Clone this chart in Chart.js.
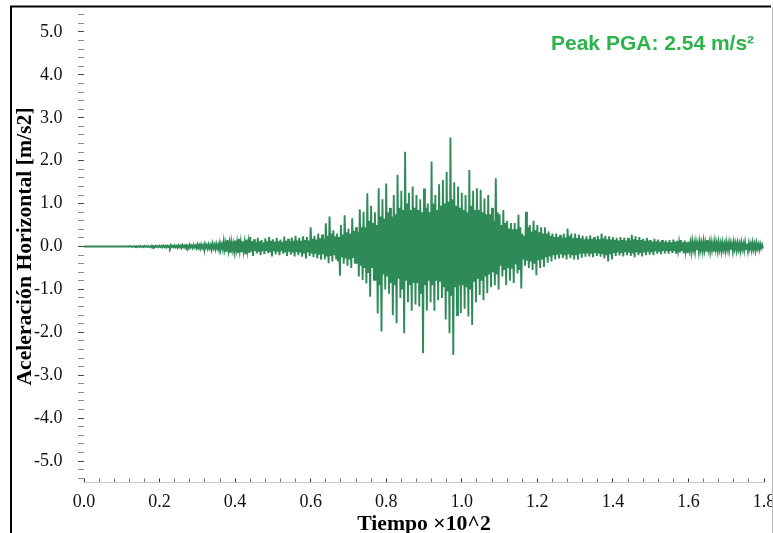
<!DOCTYPE html>
<html>
<head>
<meta charset="utf-8">
<script src="https://cdn.jsdelivr.net/npm/chart.js@4"></script>
<style>
  html, body { margin: 0; padding: 0; background: #ffffff; }
  #wrap { position: relative; width: 773px; height: 533px; }
  canvas { display: block; }
</style>
</head>
<body>
<div id="wrap"><canvas id="c" width="773" height="533"></canvas></div>
<script>
// Sampling step of the read-off record (seconds); the x axis is in seconds x10^2
const pasoSeg = 1;

// Positive spike peaks, one per second (m/s2)
const picosPos = [
  0,0,0,0,0,0,0,0,0,0,
  0,0.005,0.01,0.005,0.01,0.01,0.015,0.01,0.02,0.015,
  0.02,0.025,0.02,0.03,0.025,0.03,0.035,0.03,0.04,0.035,
  0.05,0.045,0.06,0.05,0.07,0.06,0.08,0.12,0.15,0.1,
  0.14,0.18,0.12,0.16,0.22,0.17,0.2,0.15,0.19,0.22,
  0.17,0.2,0.16,0.23,0.18,0.21,0.25,0.2,0.24,0.22,
  0.45,0.25,0.3,0.28,0.54,0.7,0.38,0.3,0.5,0.73,
  0.42,0.66,0.45,0.87,0.81,1.24,0.95,0.8,1.36,1.1,
  1.47,0.9,1.2,1.67,1.3,2.21,1.25,1.4,1.2,1.1,
  1.35,1.0,1.98,1.2,1.45,1.55,1.74,2.54,1.5,1.4,
  1.25,1.2,1.78,1.3,1.36,1.32,1.12,1.2,0.9,1.59,
  0.75,0.85,0.6,0.55,0.55,0.74,0.3,0.81,0.5,0.6,
  0.5,0.45,0.45,0.35,0.3,0.3,0.27,0.3,0.42,0.3,
  0.3,0.28,0.25,0.24,0.26,0.22,0.25,0.3,0.25,0.24,
  0.22,0.2,0.22,0.21,0.2,0.27,0.24,0.22,0.18,0.2,
  0.15,0.18,0.16,0.15,0.14,0.15,0.16,0.13,0.15,0.14,
  0.11,0.12,0.1,0.11,0.12,0.15,0.1,0.11,0.1,0.09,
  0.1,0.09,0.1,0.08,0.09,0.1,0.08,0.09,0.08,0.06
];

// Negative spike peaks, one per second (m/s2)
const picosNeg = [
  0,0,0,0,0,0,0,0,0,0,
  0,-0.005,-0.01,-0.005,-0.01,-0.015,-0.01,-0.015,-0.02,-0.015,
  -0.02,-0.025,-0.03,-0.02,-0.03,-0.035,-0.03,-0.04,-0.035,-0.04,
  -0.05,-0.06,-0.05,-0.07,-0.06,-0.08,-0.07,-0.12,-0.15,-0.11,
  -0.15,-0.13,-0.18,-0.15,-0.22,-0.16,-0.2,-0.18,-0.15,-0.23,
  -0.18,-0.2,-0.17,-0.22,-0.19,-0.23,-0.2,-0.24,-0.28,-0.22,
  -0.25,-0.28,-0.31,-0.3,-0.39,-0.35,-0.3,-0.68,-0.4,-0.45,
  -0.5,-0.4,-0.7,-0.78,-0.86,-1.17,-0.8,-1.56,-1.98,-1.0,
  -1.1,-1.6,-1.79,-1.2,-2.02,-1.3,-1.5,-1.35,-1.4,-2.49,
  -1.5,-1.3,-1.5,-1.25,-1.2,-1.7,-2.02,-2.53,-1.6,-1.55,
  -1.45,-1.63,-1.83,-1.3,-1.13,-1.25,-1.09,-0.95,-0.9,-1.0,
  -0.7,-0.9,-0.8,-0.85,-0.63,-0.98,-0.45,-0.5,-0.55,-0.67,
  -0.5,-0.48,-0.38,-0.35,-0.3,-0.28,-0.27,-0.3,-0.27,-0.3,
  -0.31,-0.26,-0.24,-0.23,-0.25,-0.22,-0.24,-0.28,-0.35,-0.3,
  -0.22,-0.21,-0.23,-0.2,-0.22,-0.25,-0.2,-0.23,-0.2,-0.19,
  -0.2,-0.17,-0.18,-0.16,-0.17,-0.15,-0.17,-0.14,-0.16,-0.15,
  -0.12,-0.11,-0.12,-0.1,-0.12,-0.11,-0.12,-0.1,-0.11,-0.1,
  -0.1,-0.11,-0.09,-0.1,-0.09,-0.1,-0.08,-0.09,-0.07,-0.05
];

// Positive swings inside the solid core of the trace, one per second (m/s2)
const nucleoPos = [
  0,0,0,0,0,0,0,0,0,0,
  0,0.003,0.005,0.004,0.006,0.006,0.008,0.007,0.01,0.009,
  0.012,0.014,0.012,0.016,0.015,0.018,0.02,0.018,0.022,0.02,
  0.03,0.028,0.035,0.03,0.04,0.038,0.05,0.07,0.08,0.07,
  0.09,0.1,0.08,0.1,0.12,0.1,0.12,0.1,0.12,0.13,
  0.11,0.12,0.11,0.13,0.12,0.13,0.14,0.13,0.15,0.14,
  0.18,0.16,0.19,0.18,0.25,0.3,0.24,0.22,0.28,0.33,
  0.3,0.36,0.33,0.45,0.45,0.6,0.55,0.5,0.7,0.65,
  0.8,0.7,0.75,0.9,0.85,1.0,0.85,0.9,0.85,0.8,
  0.9,0.8,1.0,0.85,0.95,1.0,1.05,1.1,0.95,0.9,
  0.85,0.8,0.95,0.85,0.85,0.8,0.75,0.75,0.6,0.8,
  0.5,0.55,0.42,0.4,0.4,0.45,0.25,0.45,0.35,0.38,
  0.33,0.3,0.3,0.25,0.22,0.22,0.2,0.21,0.25,0.2,
  0.2,0.19,0.17,0.17,0.18,0.16,0.17,0.19,0.17,0.16,
  0.15,0.14,0.15,0.14,0.14,0.17,0.15,0.15,0.13,0.14,
  0.11,0.12,0.11,0.1,0.1,0.1,0.11,0.09,0.1,0.1,
  0.08,0.08,0.07,0.08,0.08,0.09,0.07,0.08,0.07,0.06,
  0.07,0.06,0.07,0.06,0.06,0.07,0.06,0.06,0.05,0.04
];

// Negative swings inside the solid core of the trace, one per second (m/s2)
const nucleoNeg = [
  0,0,0,0,0,0,0,0,0,0,
  0,-0.003,-0.005,-0.004,-0.006,-0.008,-0.006,-0.008,-0.01,-0.009,
  -0.012,-0.014,-0.016,-0.012,-0.016,-0.018,-0.017,-0.022,-0.02,-0.022,
  -0.03,-0.035,-0.03,-0.04,-0.036,-0.045,-0.042,-0.07,-0.085,-0.07,
  -0.09,-0.085,-0.1,-0.09,-0.12,-0.1,-0.12,-0.11,-0.1,-0.13,
  -0.11,-0.12,-0.11,-0.13,-0.12,-0.14,-0.13,-0.14,-0.16,-0.14,
  -0.16,-0.17,-0.19,-0.18,-0.23,-0.22,-0.2,-0.35,-0.25,-0.28,
  -0.3,-0.27,-0.4,-0.45,-0.5,-0.62,-0.5,-0.8,-0.9,-0.65,
  -0.7,-0.85,-0.9,-0.75,-1.0,-0.8,-0.9,-0.85,-0.85,-1.1,
  -0.9,-0.8,-0.9,-0.8,-0.8,-0.95,-1.05,-1.15,-0.95,-0.9,
  -0.9,-0.95,-1.0,-0.8,-0.75,-0.8,-0.7,-0.65,-0.6,-0.65,
  -0.45,-0.55,-0.5,-0.52,-0.42,-0.55,-0.3,-0.33,-0.35,-0.4,
  -0.32,-0.3,-0.25,-0.23,-0.2,-0.19,-0.18,-0.2,-0.18,-0.2,
  -0.2,-0.17,-0.16,-0.16,-0.17,-0.15,-0.16,-0.18,-0.2,-0.18,
  -0.15,-0.14,-0.15,-0.13,-0.14,-0.16,-0.13,-0.15,-0.13,-0.12,
  -0.13,-0.11,-0.12,-0.1,-0.11,-0.1,-0.11,-0.09,-0.1,-0.1,
  -0.08,-0.07,-0.08,-0.07,-0.08,-0.07,-0.08,-0.07,-0.07,-0.07,
  -0.07,-0.07,-0.06,-0.07,-0.06,-0.06,-0.05,-0.06,-0.05,-0.04
];

// Axis settings and texts
const ejeX = { min: 0, max: 1.8, paso: 0.04, mayor: 0.2 };
const ejeY = { min: -5.5, max: 5.5, paso: 0.2, mayor: 1.0, primerTick: -5.4, ultimoTick: 5.4 };
const tituloX = 'Tiempo \u00d710^2';
const tituloY = 'Aceleraci\u00f3n Horizontal [m/s2]';
const textoPico = 'Peak PGA: 2.54 m/s\u00b2';

// Each second of record: spike up, core down, core up, spike down
const serie = [];
for (let i = 0; i < picosPos.length; i++) {
  const t = i * pasoSeg;
  serie.push({ x: t / 100, y: picosPos[i] });
  serie.push({ x: (t + pasoSeg * 0.25) / 100, y: nucleoNeg[i] });
  serie.push({ x: (t + pasoSeg * 0.5) / 100, y: nucleoPos[i] });
  serie.push({ x: (t + pasoSeg * 0.75) / 100, y: picosNeg[i] });
}

const valoresTicksY = [];
{
  const n = Math.round((ejeY.ultimoTick - ejeY.primerTick) / ejeY.paso);
  for (let k = 0; k <= n; k++) {
    valoresTicksY.push(Math.round((ejeY.primerTick + k * ejeY.paso) * 1000) / 1000);
  }
}

function esMayor(v, m) {
  const r = v / m;
  return Math.abs(r - Math.round(r)) < 1e-6;
}

const marco = {
  id: 'marco',
  beforeDraw(chart) {
    const ctx = chart.ctx;
    ctx.save();
    ctx.fillStyle = '#ffffff';
    ctx.fillRect(0, 0, chart.width, chart.height);
    ctx.restore();
  },
  afterDraw(chart) {
    const ctx = chart.ctx;
    ctx.save();
    ctx.strokeStyle = '#000000';
    ctx.lineWidth = 2;
    ctx.beginPath();
    ctx.moveTo(10, 6.5); ctx.lineTo(771, 6.5);
    ctx.moveTo(11, 6); ctx.lineTo(11, 533);
    ctx.stroke();
    ctx.strokeStyle = '#b8b8b8';
    ctx.lineWidth = 1;
    ctx.beginPath();
    ctx.moveTo(772.5, 7); ctx.lineTo(772.5, 533);
    ctx.stroke();
    ctx.fillStyle = '#2db34b';
    ctx.font = 'bold 21px "Liberation Sans", Arial, sans-serif';
    ctx.textAlign = 'left';
    ctx.textBaseline = 'alphabetic';
    ctx.fillText(textoPico, 551, 49.5);
    ctx.restore();
  }
};

const fuenteSerif = '"Liberation Serif", "Times New Roman", serif';

new Chart(document.getElementById('c'), {
  type: 'line',
  data: {
    datasets: [{
      data: serie,
      borderColor: '#2e8b57',
      borderWidth: 1.9,
      pointRadius: 0,
      tension: 0,
      fill: false
    }]
  },
  options: {
    responsive: false,
    devicePixelRatio: 1,
    animation: false,
    parsing: false,
    layout: { padding: { left: 0, top: 10.5, right: 9, bottom: 0 } },
    plugins: { legend: { display: false }, tooltip: { enabled: false } },
    scales: {
      x: {
        type: 'linear',
        min: ejeX.min, max: ejeX.max,
        afterFit(s) { s.height = 50.5; s.paddingLeft = 0; s.paddingRight = 0; },
        border: { display: true, color: '#c8c8c8', width: 1 },
        grid: {
          display: true, drawOnChartArea: false, drawTicks: true, tickLength: -4,
          tickColor: (c) => (c.tick && esMayor(c.tick.value, ejeX.mayor)) ? '#333333' : '#777777',
          tickWidth: 1
        },
        ticks: {
          stepSize: ejeX.paso, autoSkip: false, maxRotation: 0, minRotation: 0,
          padding: 12.7, color: '#111111',
          font: { family: fuenteSerif, size: 18 },
          callback: (v) => esMayor(v, ejeX.mayor) ? Number(v).toFixed(1) : ''
        },
        title: {
          display: true, text: tituloX, color: '#000000',
          font: { family: fuenteSerif, size: 21.7, weight: 'bold', lineHeight: 0.83 },
          padding: { top: 0, bottom: 0 }
        }
      },
      y: {
        type: 'linear',
        min: ejeY.min, max: ejeY.max,
        afterBuildTicks(s) { s.ticks = valoresTicksY.map(v => ({ value: v })); },
        afterFit(s) { s.width = 84; s.paddingTop = 0; s.paddingBottom = 0; },
        border: { display: false },
        grid: {
          display: true, drawOnChartArea: false, drawTicks: true, tickLength: 6,
          tickColor: (c) => (c.tick && esMayor(c.tick.value, ejeY.mayor)) ? '#444444' : '#8a8a8a',
          tickWidth: 1
        },
        ticks: {
          autoSkip: false,
          padding: 15.5, color: '#111111',
          font: { family: fuenteSerif, size: 18 },
          callback: (v) => esMayor(v, ejeY.mayor) ? Number(v).toFixed(1) : ''
        },
        title: {
          display: true, text: tituloY, color: '#000000',
          font: { family: fuenteSerif, size: 21.7, weight: 'bold', lineHeight: 0.83 },
          padding: { top: 16.7, bottom: 0 }
        }
      }
    }
  },
  plugins: [marco]
});
</script>
</body>
</html>
